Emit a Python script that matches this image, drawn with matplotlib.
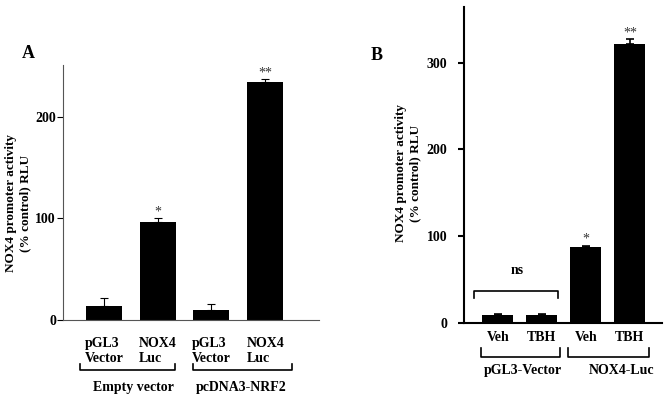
import matplotlib.pyplot as plt
import matplotlib.transforms as mtransforms

plt.rcParams['font.family'] = 'Liberation Serif'
plt.rcParams['font.weight'] = 'bold'

# Panel A data
a_labels = ['pGL3\nVector', 'NOX4\nLuc', 'pGL3\nVector', 'NOX4\nLuc']
a_values = [14, 96, 10, 234]
a_errors = [8, 4, 6, 3]
a_stars = ['', '*', '', '**']
a_groups = ['Empty vector', 'pcDNA3-NRF2']

# Panel B data
b_labels = ['Veh', 'TBH', 'Veh', 'TBH']
b_values = [9, 9, 87, 321]
b_errors = [1, 1, 2, 6]
b_stars = ['', '', '*', '**']
b_groups = ['pGL3-Vector', 'NOX4-Luc']

ylab = 'NOX4 promoter activity\n(% control) RLU'

fig = plt.figure(figsize=(6.68, 4.01), dpi=100)
W, H = 668, 401


def px_axes(l, t, r, b):
    return fig.add_axes([l / W, (H - b) / H, (r - l) / W, (b - t) / H])


def bracket(ax, x0, x1, y, dy):
    tr = mtransforms.blended_transform_factory(ax.transData, ax.transAxes)
    ax.plot([x0, x0, x1, x1], [y + dy, y, y, y + dy], color='black', lw=1.2,
            transform=tr, clip_on=False)


def style(ax, lw):
    ax.spines['top'].set_visible(False)
    ax.spines['right'].set_visible(False)
    ax.spines['left'].set_linewidth(lw)
    ax.spines['bottom'].set_linewidth(lw)
    ax.tick_params(axis='y', length=4, width=lw, labelsize=10)
    ax.tick_params(axis='x', length=0, labelsize=10)
    for t in ax.get_yticklabels() + ax.get_xticklabels():
        t.set_fontweight('bold')


# ---- Panel A ----
axA = px_axes(63, 65, 319, 320)
xa = range(len(a_values))
axA.bar(xa, a_values, width=0.67, color='black')
axA.errorbar(xa, a_values, yerr=[[0] * 4, a_errors], fmt='none', ecolor='black',
             elinewidth=0.8, capsize=3, capthick=0.8)
for x, v, e, s in zip(xa, a_values, a_errors, a_stars):
    if s:
        axA.annotate(s, (x, v + e), xytext=(0, 0), textcoords='offset points',
                     ha='center', va='bottom', fontsize=10, fontweight='normal',
                     color='#333333')
axA.set_xlim(-0.76, 4.0)
axA.set_ylim(0, 251)
axA.set_yticks([0, 100, 200])
axA.set_xticks(list(xa))
axA.set_xticklabels(a_labels, multialignment='left')
axA.tick_params(axis='x', pad=12)
style(axA, 0.8)
axA.tick_params(axis='y', pad=1)
axA.spines['left'].set_color('#555555')
axA.spines['bottom'].set_color('#555555')
bracket(axA, -0.45, 1.32, -0.196, 0.022)
bracket(axA, 1.66, 3.5, -0.196, 0.022)
trA = mtransforms.blended_transform_factory(axA.transData, axA.transAxes)
axA.text(0.55, -0.265, a_groups[0], transform=trA, ha='center', va='center', fontsize=10)
axA.text(2.55, -0.265, a_groups[1], transform=trA, ha='center', va='center', fontsize=10)
fig.text(28 / W, (H - 53) / H, 'A', fontsize=13, fontweight='bold', ha='center', va='center')
fig.text(18 / W, (H - 203) / H, ylab, rotation=90, ha='center', va='center',
         multialignment='center', fontsize=9.5, fontweight='bold', linespacing=1.25)

# ---- Panel B ----
axB = px_axes(464, 7, 662, 323)
xb = range(len(b_values))
axB.bar(xb, b_values, width=0.7, color='black')
axB.errorbar(xb, b_values, yerr=[[0] * 4, b_errors], fmt='none', ecolor='black',
             elinewidth=1.2, capsize=3, capthick=1.2)
for x, v, e, s in zip(xb, b_values, b_errors, b_stars):
    if s:
        axB.annotate(s, (x, v + e), xytext=(0, 0), textcoords='offset points',
                     ha='center', va='bottom', fontsize=10, fontweight='normal',
                     color='#333333')
axB.set_xlim(-0.77, 3.73)
axB.set_ylim(0, 364)
axB.set_yticks([0, 100, 200, 300])
axB.set_xticks(list(xb))
axB.set_xticklabels(b_labels)
axB.tick_params(axis='x', pad=6)
style(axB, 1.5)
axB.tick_params(axis='y', pad=8)
# ns bracket over pGL3-Vector bars
axB.plot([-0.55, -0.55, 1.36, 1.36], [29, 37, 37, 29], color='black', lw=1.2)
axB.text(0.45, 61, 'ns', ha='center', va='center', fontsize=10)
bracket(axB, -0.39, 1.41, -0.108, 0.028)
bracket(axB, 1.59, 3.43, -0.108, 0.028)
trB = mtransforms.blended_transform_factory(axB.transData, axB.transAxes)
axB.text(0.57, -0.149, b_groups[0], transform=trB, ha='center', va='center', fontsize=10)
axB.text(2.8, -0.149, b_groups[1], transform=trB, ha='center', va='center', fontsize=10)
fig.text(377 / W, (H - 55) / H, 'B', fontsize=13, fontweight='bold', ha='center', va='center')
fig.text(408 / W, (H - 173) / H, ylab, rotation=90, ha='center', va='center',
         multialignment='center', fontsize=9.5, fontweight='bold', linespacing=1.2)

fig.savefig('out.png', dpi=100)
